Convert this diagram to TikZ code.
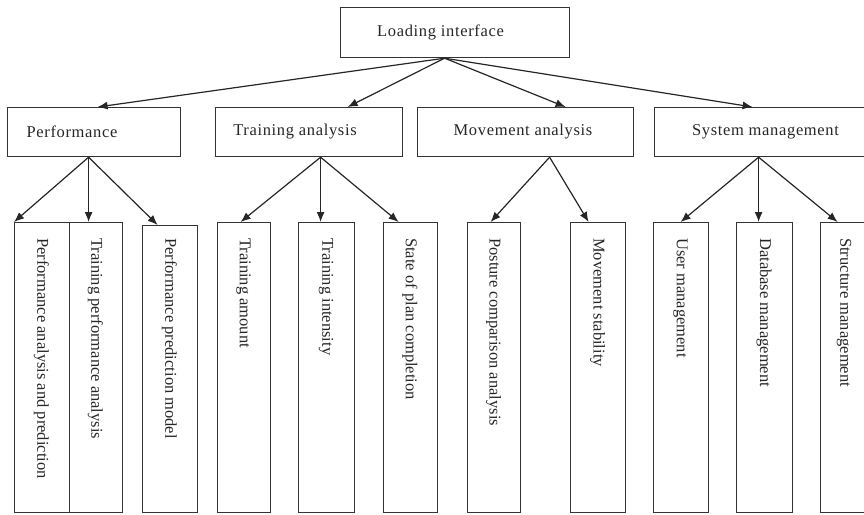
\documentclass[tikz,border=0pt]{standalone}
\usepackage{fontspec}
\setmainfont{Liberation Serif}
\newfontfamily\hfont[LetterSpace=4]{Liberation Serif}
\usetikzlibrary{arrows.meta}
\begin{document}
\begin{tikzpicture}[x=1pt,y=-1pt,
  box/.style={draw=black!80,line width=1.2pt,rectangle,inner sep=0pt,anchor=north west},
  lbl/.style={font=\fontsize{16.5}{18}\selectfont,inner sep=0pt,text=black!85},
  hlbl/.style={lbl,font=\hfont\fontsize{16.5}{18}\selectfont},
  vlbl/.style={lbl,rotate=-90,anchor=west},
  arr/.style={draw=black!85,line width=1.2pt,-{Latex[length=10pt,width=8pt]}}]
\useasboundingbox (0,0) rectangle (864,514);
% top
\node[box,minimum width=229pt,minimum height=50pt] (load) at (340,7) {};
\node[hlbl] at (440.5,32) {Loading interface};
% level 2
\node[box,minimum width=173pt,minimum height=49pt] (perf) at (7,107) {};
\node[hlbl] at (72,131.5) {Performance};
\node[box,minimum width=187pt,minimum height=49pt] (train) at (215,107) {};
\node[hlbl] at (295,131.5) {Training analysis};
\node[box,minimum width=216pt,minimum height=49pt] (move) at (417,107) {};
\node[hlbl] at (523,131.5) {Movement analysis};
\node[box,minimum width=216pt,minimum height=49pt] (sys) at (654,107) {};
\node[hlbl] at (765.5,131.5) {System management};
% leaves
\node[box,minimum width=55pt,minimum height=290pt] (l1) at (14,222) {};
\node[vlbl] at (41.5,238) {Performance analysis and prediction};
\node[box,minimum width=53pt,minimum height=290pt] (l2) at (69,222) {};
\node[vlbl] at (95.5,238) {Training performance analysis};
\node[box,minimum width=55pt,minimum height=287pt] (l3) at (142,225) {};
\node[vlbl] at (169.5,238) {Performance prediction model};
\node[box,minimum width=53pt,minimum height=290pt] (l4) at (217,222) {};
\node[vlbl] at (243.5,238) {Training amount};
\node[box,minimum width=56pt,minimum height=290pt] (l5) at (298,222) {};
\node[vlbl] at (326,238) {Training intensity};
\node[box,minimum width=54pt,minimum height=290pt] (l6) at (383,222) {};
\node[vlbl] at (410,238) {State of plan completion};
\node[box,minimum width=53pt,minimum height=290pt] (l7) at (467,222) {};
\node[vlbl] at (493.5,238) {Posture comparison analysis};
\node[box,minimum width=55pt,minimum height=290pt] (l8) at (570,222) {};
\node[vlbl] at (597.5,238) {Movement stability};
\node[box,minimum width=55pt,minimum height=290pt] (l9) at (653,222) {};
\node[vlbl] at (680.5,238) {User management};
\node[box,minimum width=56pt,minimum height=290pt] (l10) at (736,222) {};
\node[vlbl] at (764,238) {Database management};
\node[box,minimum width=55pt,minimum height=290pt] (l11) at (820,222) {};
\node[vlbl] at (844,238) {Structure management};
% top arrows
\draw[arr] ([xshift=-10.5pt]load.south) -- ([xshift=3.5pt]perf.north);
\draw[arr] ([xshift=-10.5pt]load.south) -- ([xshift=38.5pt]train.north);
\draw[arr] ([xshift=-10.5pt]load.south) -- ([xshift=40pt]move.north);
\draw[arr] ([xshift=-10.5pt]load.south) -- ([xshift=-10pt]sys.north);
% performance
\draw[arr] ([xshift=-5.5pt]perf.south) -- (l1.north west);
\draw[arr] ([xshift=-5.5pt]perf.south) -- ([xshift=-7.5pt]l2.north);
\draw[arr] ([xshift=-5.5pt]perf.south) -- ([xshift=-12.5pt]l3.north);
% training
\draw[arr] ([xshift=11.5pt]train.south) -- ([xshift=-3.5pt]l4.north);
\draw[arr] ([xshift=11.5pt]train.south) -- ([xshift=-6pt]l5.north);
\draw[arr] ([xshift=11.5pt]train.south) -- ([xshift=-12pt]l6.north);
% movement
\draw[arr] ([xshift=24pt]move.south) -- ([xshift=-3.5pt]l7.north);
\draw[arr] ([xshift=24pt]move.south) -- ([xshift=-9.5pt]l8.north);
% system
\draw[arr] ([xshift=-4pt]sys.south) -- ([xshift=-0.5pt]l9.north);
\draw[arr] ([xshift=-4pt]sys.south) -- ([xshift=-6pt]l10.north);
\draw[arr] ([xshift=-4pt]sys.south) -- ([xshift=-10.5pt]l11.north);
\end{tikzpicture}
\end{document}
